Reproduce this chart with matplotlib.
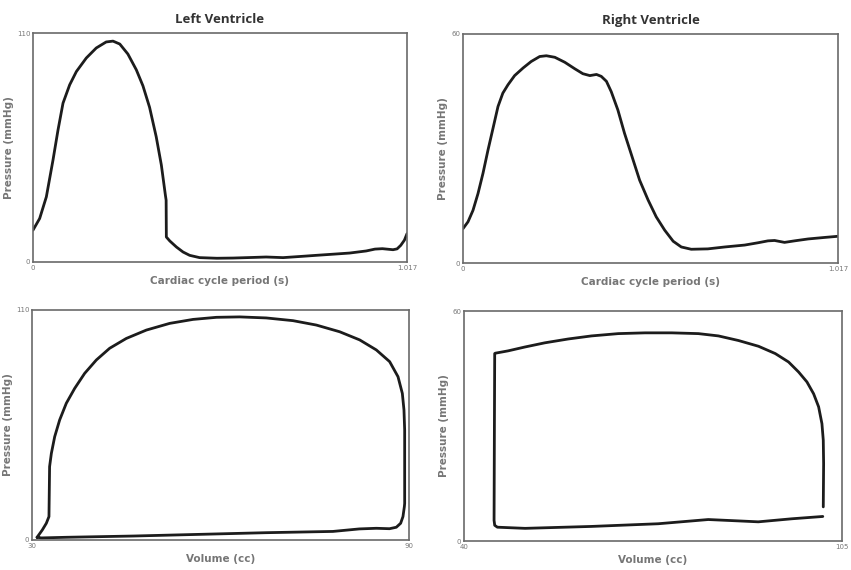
import matplotlib
matplotlib.use("Agg")
import matplotlib.pyplot as plt

# ---- Data ----
lv_t = [0, 0.0181, 0.0363, 0.0544, 0.068, 0.0816, 0.0997, 0.118, 0.145, 0.172, 0.199,
        0.2175, 0.236, 0.258, 0.281, 0.299, 0.317, 0.335, 0.349, 0.360, 0.362, 0.3626,
        0.372, 0.390, 0.408, 0.426, 0.453, 0.500, 0.544, 0.600, 0.634, 0.680, 0.730,
        0.770, 0.820, 0.861, 0.906, 0.930, 0.950, 0.979, 0.990, 1.000, 1.010, 1.017]
lv_p = [15.3, 20.9, 31.3, 49.0, 63.4, 76.3, 85.1, 91.5, 98.0, 102.8, 105.7,
        106.1, 104.7, 99.9, 92.3, 84.6, 74.3, 60.2, 46.6, 32.1, 29.7, 12.0,
        10.1, 7.2, 4.8, 3.2, 2.1, 1.8, 1.9, 2.2, 2.4, 2.1, 2.7,
        3.2, 3.8, 4.3, 5.3, 6.2, 6.4, 5.9, 6.3, 8.0, 10.5, 13.6]

rv_t = [0, 0.0136, 0.0271, 0.0407, 0.0542, 0.0678, 0.0814, 0.0949, 0.108, 0.122,
        0.140, 0.163, 0.185, 0.208, 0.226, 0.249, 0.276, 0.303, 0.325, 0.344, 0.362,
        0.375, 0.389, 0.402, 0.420, 0.438, 0.457, 0.479, 0.502, 0.524, 0.547, 0.570,
        0.592, 0.619, 0.664, 0.710, 0.764, 0.800, 0.827, 0.845, 0.872, 0.899, 0.936,
        0.981, 1.017]
rv_p = [9.0, 10.8, 13.8, 18.2, 23.5, 29.6, 35.3, 41.0, 44.5, 46.7,
        49.1, 51.1, 52.8, 54.1, 54.3, 53.9, 52.6, 50.9, 49.6, 49.1, 49.4,
        48.9, 47.6, 44.9, 40.1, 34.0, 28.3, 21.7, 16.5, 12.1, 8.6, 5.7,
        4.2, 3.6, 3.7, 4.2, 4.7, 5.3, 5.8, 5.9, 5.4, 5.8, 6.3,
        6.7, 7.0]

lv_vol = [30.8, 31.5, 35.5, 46.1, 56.7, 67.3, 77.9, 82.1, 84.8, 86.9, 87.98, 88.67,
          89.04, 89.26, 89.31, 89.31, 89.20, 88.94, 88.25, 86.92, 84.80, 82.15, 78.96,
          75.25, 71.54, 67.29, 63.05, 59.35, 55.63, 51.91, 48.20, 45.01, 42.36, 40.24,
          38.38, 36.79, 35.46, 34.40, 33.61, 33.08, 32.8, 32.7, 32.28, 31.64, 30.95, 30.8]
lv_pv = [1.3, 1.0, 1.3, 1.9, 2.7, 3.5, 4.1, 5.3, 5.6, 5.4, 6.1, 8.0,
         11.2, 15.9, 17.5, 52.6, 62.2, 70.1, 78.1, 85.3, 90.9, 95.7, 99.6,
         102.8, 104.9, 106.2, 106.7, 106.5, 105.5, 103.6, 100.4, 96.4, 91.7, 86.1,
         79.7, 72.5, 65.4, 57.4, 49.4, 41.4, 35.1, 11.2, 8.0, 4.8, 1.9, 1.3]

rv_vol = [101.78, 101.84, 101.78, 101.55, 100.98, 100.12, 98.97, 97.53, 95.81, 93.52,
          90.64, 87.20, 83.75, 80.31, 75.72, 71.12, 66.53, 61.93, 57.92, 53.90, 50.45,
          47.58, 46.14, 45.40, 45.28, 45.23, 45.17, 45.28, 45.74, 50.5, 61.9, 73.4,
          82.0, 87.8, 90.6, 96.4, 101.7]
rv_pv = [8.9, 20.2, 26.3, 30.6, 35.0, 38.4, 41.5, 44.1, 46.7, 48.9,
         50.8, 52.3, 53.5, 54.1, 54.3, 54.3, 54.1, 53.5, 52.7, 51.7, 50.6,
         49.6, 49.2, 49.0, 48.9, 30.6, 5.4, 4.1, 3.6, 3.3, 3.8, 4.5,
         5.6, 5.2, 5.0, 5.8, 6.4]

titles = ["Left Ventricle", "Right Ventricle"]
time_ticks = [0, 1.017]
time_ticklabels = ["0", "1.017"]
lv_pticks = [0, 110]
rv_pticks = [0, 60]
lv_vticks = [30, 90]
rv_vticks = [40, 105]

# ---- Figure ----
fig = plt.figure(figsize=(8.51, 5.70), dpi=100)
fig.patch.set_facecolor("white")

rects = {
    "tl": [33/851, 1-262/570, 374/851, 229/570],
    "tr": [463/851, 1-263/570, 375/851, 229/570],
    "bl": [32/851, 1-540/570, 377/851, 230/570],
    "br": [464/851, 1-541/570, 378/851, 230/570],
}

line_kw = dict(color="#1c1c1c", lw=2.0, solid_joinstyle="round", solid_capstyle="round")
lab_kw = dict(fontsize=7.5, color="#767676", fontweight="bold", family="DejaVu Sans")


def style(ax, xt, xtl, yt, xlabel):
    for s in ax.spines.values():
        s.set_color("#6a6a6a")
        s.set_linewidth(1.2)
    ax.set_xticks(xt)
    ax.set_xticklabels(xtl)
    ax.set_yticks(yt)
    ax.set_yticklabels([str(v) for v in yt])
    ax.tick_params(length=0, labelsize=5, labelcolor="#777777", pad=2)
    ax.set_xlabel(xlabel, labelpad=4, **lab_kw)
    ax.set_ylabel("Pressure (mmHg)", labelpad=2, **lab_kw)


ax = fig.add_axes(rects["tl"])
ax.plot(lv_t, lv_p, **line_kw)
ax.set_xlim(0, 1.017)
ax.set_ylim(0, 110)
style(ax, time_ticks, time_ticklabels, lv_pticks, "Cardiac cycle period (s)")
ax.set_title(titles[0], fontsize=9.5, fontweight="bold", color="#333333",
             family="Open Sans", pad=7)

ax = fig.add_axes(rects["tr"])
ax.plot(rv_t, rv_p, **line_kw)
ax.set_xlim(0, 1.017)
ax.set_ylim(0, 60)
style(ax, time_ticks, time_ticklabels, rv_pticks, "Cardiac cycle period (s)")
ax.set_title(titles[1], fontsize=9.5, fontweight="bold", color="#333333",
             family="Open Sans", pad=7)

ax = fig.add_axes(rects["bl"])
ax.plot(lv_vol, lv_pv, **line_kw)
ax.set_xlim(30, 90)
ax.set_ylim(0, 110)
style(ax, lv_vticks, [str(v) for v in lv_vticks], lv_pticks, "Volume (cc)")

ax = fig.add_axes(rects["br"])
ax.plot(rv_vol, rv_pv, **line_kw)
ax.set_xlim(40, 105)
ax.set_ylim(0, 60)
style(ax, rv_vticks, [str(v) for v in rv_vticks], rv_pticks, "Volume (cc)")

fig.savefig("out.png", dpi=100, facecolor="white")
